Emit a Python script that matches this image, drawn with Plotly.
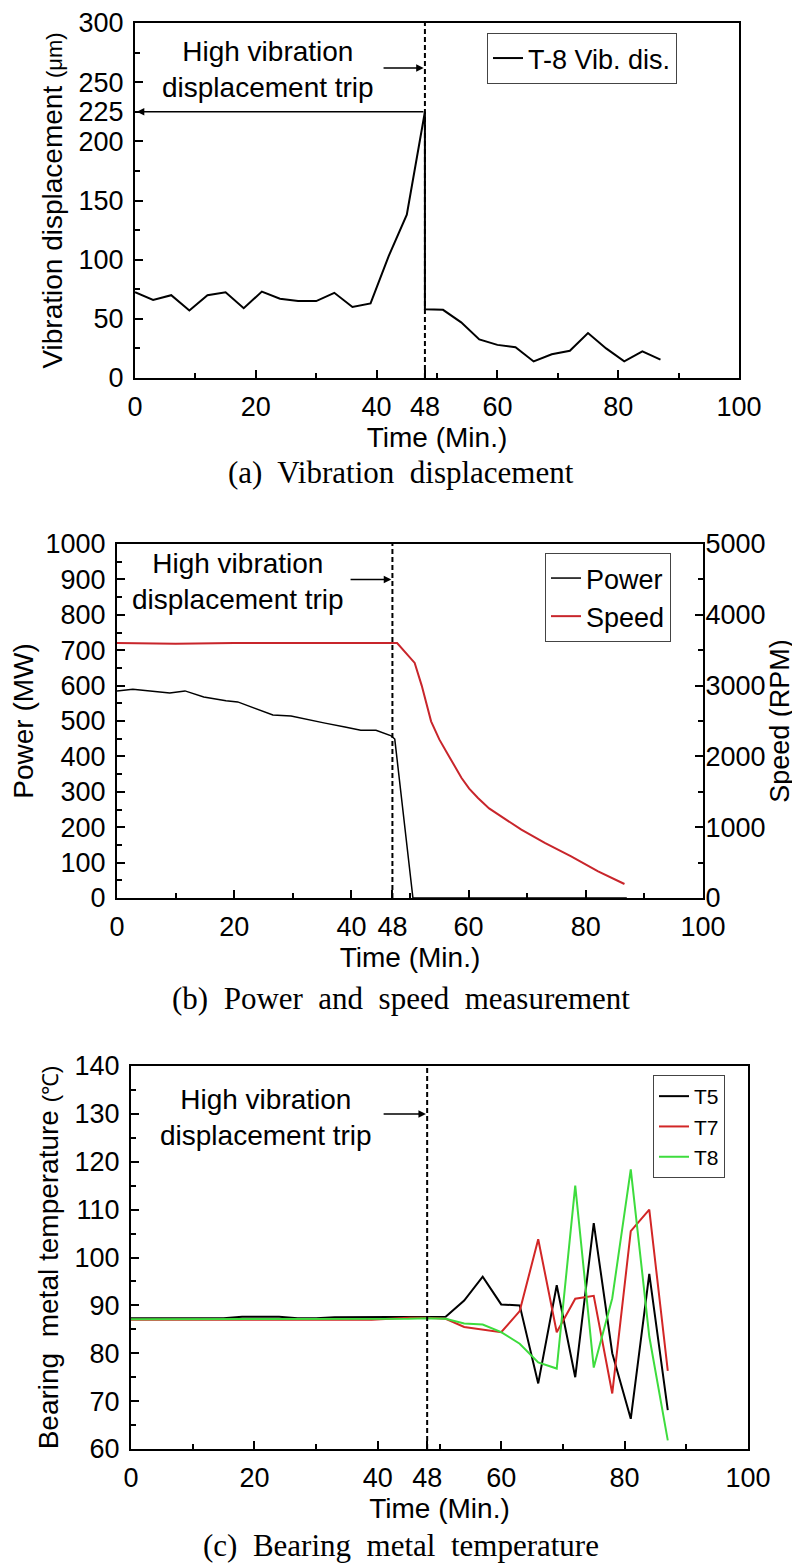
import plotly.graph_objects as go

# ---------- (a) vibration displacement ----------
time_a = [0, 3, 6, 9, 12, 15, 18, 21, 24, 27, 30, 33, 36, 39, 42, 45, 48,
          48, 51, 54, 57, 60, 63, 66, 69, 72, 75, 78, 81, 84, 87]
vib_disp = [72.5, 66, 70, 57, 70, 72.5, 59, 73, 67, 65, 65, 72, 60, 63, 103, 138, 225,
            58, 57.6, 47, 32.6, 28, 26, 14, 20, 23, 38, 25, 14, 22.5, 15.5]
xticks_a = [0, 20, 40, 48, 60, 80, 100]
yticks_a = [0, 50, 100, 150, 200, 225, 250, 300]
trip_a = 48
trip_level = 225

# ---------- (b) power and speed ----------
time_power = [0, 2.7, 9, 11.6, 14.8, 18.6, 20.6, 23.5, 26.6, 29.7, 32.3, 35.5,
              38.9, 41.6, 44.2, 46.8, 47.4, 50.5, 87]
power = [585, 590, 579, 585, 568, 557, 554, 537, 517, 514, 506, 494,
         483, 474, 474, 458, 449, 0, 0]
time_speed = [0, 10, 20, 30, 40, 47.8, 50.8, 52, 53.6, 55, 56.5, 57.6, 58.8, 60.1,
              61.6, 63.5, 65.6, 69, 73, 77.5, 82.1, 86.6]
speed = [3600, 3590, 3600, 3600, 3600, 3600, 3320, 3000, 2495, 2240, 2024, 1860, 1695, 1545,
         1412, 1265, 1153, 965, 777, 589, 377, 198]
xticks_b = [0, 20, 40, 47, 60, 80, 100]
xticktext_b = ['0', '20', '40', '48', '60', '80', '100']
trip_b = 47

# ---------- (c) bearing metal temperature ----------
time_c = [0, 3, 6, 9, 12, 15, 18, 21, 24, 27, 30, 33, 36, 39, 42, 45, 48,
          51, 54, 57, 60, 63, 66, 69, 72, 75, 78, 81, 84, 87]
t5 = [87.3, 87.3, 87.3, 87.3, 87.3, 87.3, 87.6, 87.6, 87.6, 87.3, 87.3, 87.5, 87.5,
      87.5, 87.5, 87.5, 87.5,
      87.6, 91, 96, 90.2, 90, 73.7, 94.2, 75, 107.2, 80, 66.3, 96.6, 68.1]
t7 = [87.0, 87.0, 87.0, 87.0, 87.0, 87.0, 87.0, 87.0, 87.0, 87.0, 87.0, 87.0, 87.0,
      87.0, 87.2, 87.4, 87.4,
      87.2, 85.5, 85, 84.4, 88.8, 103.8, 84.4, 91.4, 92, 71.6, 105.5, 110, 76.3]
t8 = [87.1, 87.1, 87.1, 87.1, 87.1, 87.1, 87.1, 87.1, 87.1, 87.1, 87.1, 87.1, 87.1,
      87.1, 87.1, 87.2, 87.3,
      87.2, 86.2, 86, 84.4, 82, 78.1, 76.8, 115, 77, 91.5, 118.4, 83.5, 61.8]
xticks_c = [0, 20, 40, 48, 60, 80, 100]
trip_c = 48

SANS = 'Liberation Sans, Arial, sans-serif'
SERIF = 'Liberation Serif, Times New Roman, serif'
H = 1565


def px_y(p):
    """ 像素 y -> paper 坐标 """
    return 1 - p / H


def minor_ticks(**kw):
    d = dict(ticks='inside', ticklen=5, tickwidth=1.5, tickcolor='black')
    d.update(kw)
    return d


def axis_style(**kw):
    d = dict(showline=True, linewidth=2, linecolor='black', mirror=True,
             ticks='inside', ticklen=8, tickwidth=1.5, tickcolor='black',
             showgrid=False, zeroline=False, ticklabelstandoff=4, automargin=False,
             tickfont=dict(family=SANS, size=27, color='black'))
    d.update(kw)
    return d


fig = go.Figure()

# (a)
fig.add_trace(go.Scatter(x=time_a, y=vib_disp, mode='lines', name='T-8 Vib. dis.',
                         line=dict(color='black', width=2), xaxis='x', yaxis='y',
                         legend='legend', showlegend=True))
# (b)
fig.add_trace(go.Scatter(x=time_power, y=power, mode='lines', name='Power',
                         line=dict(color='black', width=1.5), xaxis='x2', yaxis='y2',
                         legend='legend2'))
fig.add_trace(go.Scatter(x=time_speed, y=speed, mode='lines', name='Speed',
                         line=dict(color='#c8252b', width=2),
                         xaxis='x2', yaxis='y3', legend='legend2'))
# (c)
for name, vals, col in [('T5', t5, 'black'), ('T7', t7, '#d22626'), ('T8', t8, '#3ddc3d')]:
    fig.add_trace(go.Scatter(x=time_c, y=vals, mode='lines', name=name,
                             line=dict(color=col, width=2), xaxis='x3', yaxis='y4',
                             legend='legend3'))

title_font = dict(family=SANS, size=28, color='black')
leg_style = dict(xanchor='left', yanchor='top', bordercolor='#444', borderwidth=1,
                 bgcolor='white', visible=True)

fig.update_layout(
    width=800, height=H, paper_bgcolor='white', plot_bgcolor='white',
    margin=dict(l=0, r=0, t=0, b=0), showlegend=True,
    font=dict(family=SANS, color='black'),
    xaxis=axis_style(domain=[127 / 800, 731 / 800], anchor='y', range=[0, 100],
                     tickvals=xticks_a, minor=minor_ticks(tickvals=[10, 30, 50, 70, 90]),
                     title=dict(text='Time (Min.)', font=title_font, standoff=6)),
    yaxis=axis_style(domain=[px_y(370), px_y(15)], anchor='x', range=[0, 300],
                     tickvals=yticks_a, minor=minor_ticks(tickvals=[25, 75, 125, 175, 275]),
                     title=dict(text='Vibration displacement <span style="font-size:22px">(\u03bcm)</span>',
                                font=title_font, standoff=8)),
    xaxis2=axis_style(domain=[109 / 800, 695 / 800], anchor='y2', range=[0, 100],
                      tickvals=xticks_b, ticktext=xticktext_b,
                      minor=minor_ticks(tickvals=[10, 30, 50, 70, 90]),
                      title=dict(text='Time (Min.)', font=title_font, standoff=6)),
    yaxis2=axis_style(domain=[px_y(890), px_y(536)], anchor='x2', range=[0, 1000],
                      dtick=100, tick0=0, minor=minor_ticks(dtick=50, tick0=0),
                      title=dict(text='Power (MW)', font=title_font, standoff=6)),
    yaxis3=axis_style(overlaying='y2', side='right', anchor='x2', range=[0, 5000],
                      dtick=1000, tick0=0, mirror=False, ticklabelstandoff=-5,
                      tickfont=dict(family=SANS, size=27, color='black'),
                      minor=minor_ticks(dtick=500, tick0=0),
                      title=dict(text='Speed (RPM)', font=dict(family=SANS, size=27, color='black'),
                                 standoff=3)),
    xaxis3=axis_style(domain=[123 / 800, 740 / 800], anchor='y4', range=[0, 100],
                      tickvals=xticks_c, minor=minor_ticks(tickvals=[10, 30, 50, 70, 90]),
                      title=dict(text='Time (Min.)', font=title_font, standoff=6)),
    yaxis4=axis_style(domain=[px_y(1441), px_y(1058)], anchor='x3', range=[60, 140],
                      dtick=10, tick0=60, minor=minor_ticks(dtick=5, tick0=60),
                      title=dict(text='Bearing\u00a0 metal temperature <span style="font-size:22px">(\u2103)</span>',
                                 font=title_font, standoff=8)),
    legend=dict(x=479 / 800, y=px_y(25), font=dict(family=SANS, size=27, color='black'),
                **leg_style),
    legend2=dict(x=537 / 800, y=px_y(545), font=dict(family=SANS, size=27, color='black'),
                 **leg_style),
    legend3=dict(x=645 / 800, y=px_y(1067), font=dict(family=SANS, size=21, color='black'),
                 **leg_style),
)

# 跳闸时刻虚线
for xr, yr, xv in [('x', 'y', trip_a), ('x2', 'y2', trip_b), ('x3', 'y4', trip_c)]:
    fig.add_shape(type='line', xref=xr, yref=yr + ' domain', x0=xv, x1=xv, y0=0, y1=1,
                  line=dict(color='black', width=2, dash='5px,3px'))

trip_text = 'High vibration<br>displacement trip'
ann_font = dict(family=SANS, size=28, color='black')
# 文本 + 箭头
for xr, yr, tx, ty, ax0, ax1, ay in [('x', 'y', 22, 261, 40.9, 47.8, 262),
                                      ('x2', 'y2', 20.6, 895, 39.6, 46.8, 900),
                                      ('x3', 'y4', 21.9, 129.3, 40.7, 47.8, 130)]:
    fig.add_annotation(xref=xr, yref=yr, x=tx, y=ty, text=trip_text, showarrow=False,
                       font=ann_font, align='center')
    fig.add_annotation(xref=xr, yref=yr, x=ax1, y=ay, axref=xr, ayref=yr, ax=ax0, ay=ay,
                       text='', showarrow=True, arrowhead=2, arrowsize=1, arrowwidth=1.5,
                       arrowcolor='black')

# (a) 225 处的水平箭头
fig.add_annotation(xref='x', yref='y', x=0.3, y=trip_level, axref='x', ayref='y',
                   ax=trip_a, ay=trip_level, text='', showarrow=True, arrowhead=2,
                   arrowsize=1, arrowwidth=1.5, arrowcolor='black')

# 子图标题
for txt, yp in [('(a)\u00a0 Vibration\u00a0 displacement', 465),
                ('(b)\u00a0 Power\u00a0 and\u00a0 speed\u00a0 measurement', 990),
                ('(c)\u00a0 Bearing\u00a0 metal\u00a0 temperature', 1537)]:
    fig.add_annotation(xref='paper', yref='paper', x=393 / 800, y=px_y(yp), text=txt,
                       showarrow=False, xanchor='center', yanchor='middle',
                       font=dict(family=SERIF, size=31, color='black'))

fig.write_html('out.html')
